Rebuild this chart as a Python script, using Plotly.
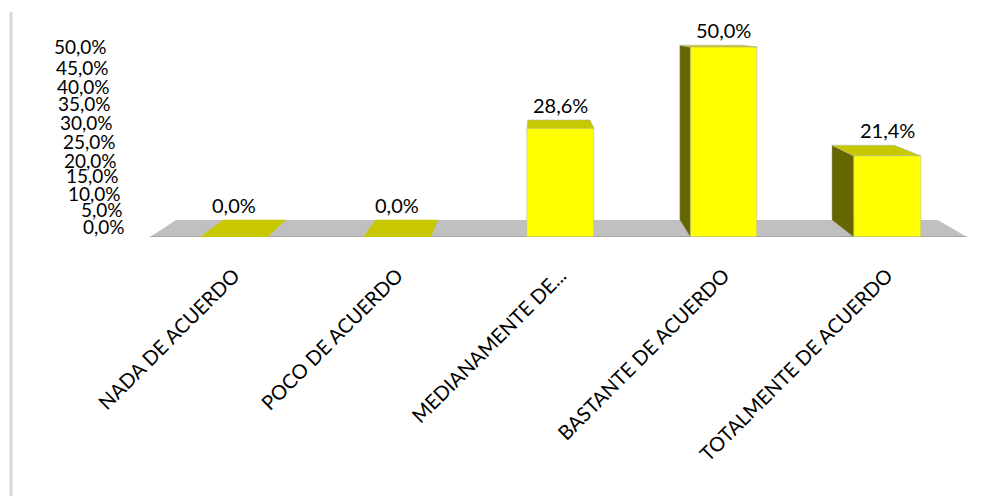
import plotly.graph_objects as go

# ---- data ----
categories = ["NADA DE ACUERDO", "POCO DE ACUERDO", "MEDIANAMENTE DE...",
              "BASTANTE DE ACUERDO", "TOTALMENTE DE ACUERDO"]
values = [0.0, 0.0, 28.6, 50.0, 21.4]
tick_values = [50, 45, 40, 35, 30, 25, 20, 15, 10, 5, 0]

def pct(v):
    return f"{v:.1f}".replace(".", ",") + "%"

# ---- style / geometry ----
FONT = "Lato"
FRONT = "#FFFF00"
TOP = "#C8C800"
SIDE = "#666600"
FLOOR = "#C0C0C0"
EDGE = "#B0B0B0"
BAR_W = 0.41
VX, VY = 1.85, 56.0      # vanishing point (data units)
KX, KY = 0.068, 0.08     # depth factors
X_RANGE = [-0.6, 4.6]
Y_RANGE = [0, 60]
OFF = 8                  # page body margin offset
ML, MR, MT, MB = 136 - OFF, 23 + OFF, 9 - OFF, 259 + OFF
W, H = 1008, 496
FLOOR_X = [-0.515, 4.49]

def back(x, y):
    return x + KX * (VX - x), y + KY * (VY - y)

fig = go.Figure()
shapes = []
annotations = []

# floor (below everything)
fl, fr = FLOOR_X
blx, bly = back(fl, 0)
brx, bry = back(fr, 0)
shapes.append(dict(type="path", xref="x", yref="y", layer="below",
                   path=f"M{fl},0 L{fr},0 L{brx},{bry} L{blx},{bly} Z",
                   fillcolor=FLOOR, line=dict(color=FLOOR, width=0)))
shapes.append(dict(type="line", xref="x", yref="y", layer="below",
                   x0=fl, x1=fr, y0=0, y1=0, line=dict(color="#8C8C8C", width=1)))

# side and top faces
for i, v in enumerate(values):
    xl, xr = i - BAR_W / 2, i + BAR_W / 2
    xlb, hb = back(xl, v)
    xrb, _ = back(xr, v)
    _, zb = back(xl, 0)
    if v > 0 and xl > VX:
        fig.add_trace(go.Scatter(x=[xl, xl, xlb, xlb, xl], y=[0, v, hb, zb, 0],
                                 mode="lines", fill="toself", fillcolor=SIDE,
                                 line=dict(color=EDGE, width=0.5), hoverinfo="skip",
                                 showlegend=False))
    if v > 0 and xr < VX:
        fig.add_trace(go.Scatter(x=[xr, xr, xrb, xrb, xr], y=[0, v, hb, zb, 0],
                                 mode="lines", fill="toself", fillcolor=SIDE,
                                 line=dict(color=EDGE, width=0.5), hoverinfo="skip",
                                 showlegend=False))
    fig.add_trace(go.Scatter(x=[xl, xr, xrb, xlb, xl], y=[v, v, hb, hb, v],
                             mode="lines", fill="toself", fillcolor=TOP,
                             line=dict(color=EDGE if v > 0 else TOP, width=0.5),
                             hoverinfo="skip", showlegend=False))
    annotations.append(dict(x=i, y=hb, xref="x", yref="y", text=pct(v),
                            showarrow=False, yanchor="bottom", yshift=1,
                            font=dict(family=FONT, size=20, color="#000000")))

# front faces
fig.add_trace(go.Bar(x=list(range(len(values))), y=values, width=BAR_W,
                     marker=dict(color=FRONT, line=dict(color=EDGE, width=0.5)),
                     showlegend=False, hoverinfo="skip"))

# squeezed value-axis labels (as in the original 3D render)
plot_h = H - MT - MB
label_py = [47, 67, 86, 104, 122, 141, 160, 175, 193, 209, 226]
label_rx = [109, 111, 112, 113, 115, 118, 119, 121, 123, 125, 127]
for tv, py, rx in zip(tick_values, label_py, label_rx):
    annotations.append(dict(x=0, y=(H - MB - (py - OFF)) / plot_h, xref="paper", yref="paper",
                            text=pct(tv), showarrow=False, xanchor="right",
                            yanchor="middle", xshift=(rx - OFF) - ML,
                            font=dict(family=FONT, size=19, color="#000000")))

# page border line on the left
plot_w = W - ML - MR
shapes.append(dict(type="line", xref="paper", yref="paper",
                   x0=(11 - OFF - ML) / plot_w, x1=(11 - OFF - ML) / plot_w,
                   y0=(H - MB - (12 - OFF)) / plot_h, y1=(H - MB - 496) / plot_h,
                   line=dict(color="#D9D9D9", width=3)))

fig.update_layout(
    width=W, height=H,
    margin=dict(l=ML, r=MR, t=MT, b=MB),
    paper_bgcolor="white", plot_bgcolor="white",
    shapes=shapes, annotations=annotations,
    xaxis=dict(range=X_RANGE, tickmode="array",
               tickvals=list(range(len(categories))), ticktext=categories,
               tickangle=-45, showgrid=False, zeroline=False, showline=False,
               ticks="", ticklabelstandoff=22,
               tickfont=dict(family=FONT, size=20, color="#000000")),
    yaxis=dict(range=Y_RANGE, showgrid=False, zeroline=False, showline=False,
               showticklabels=False, ticks=""),
    bargap=0,
)

fig.write_html("out.html")
